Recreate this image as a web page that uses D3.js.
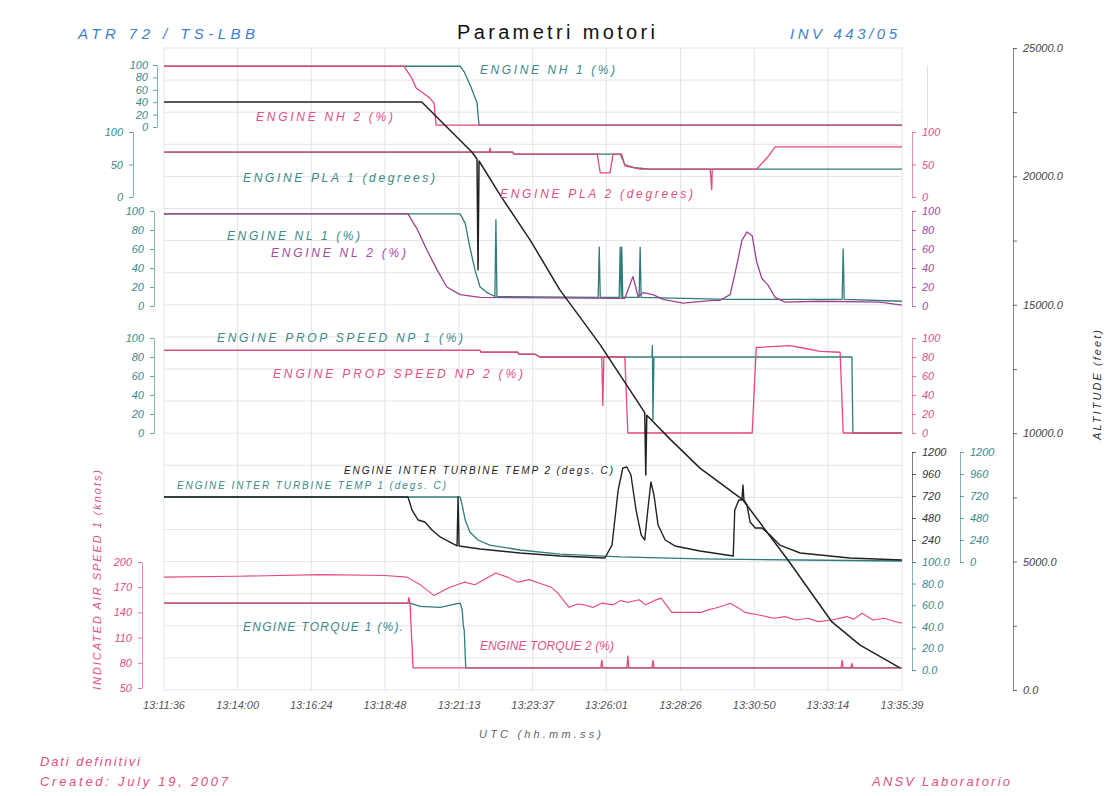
<!DOCTYPE html>
<html>
<head>
<meta charset="utf-8">
<script src="https://cdn.jsdelivr.net/npm/d3@7"></script>
<style>
  body { margin: 0; background: #fff; }
  text { font-family: "Liberation Sans", Arial, sans-serif; font-style: italic; }
</style>
</head>
<body>
<script>
// ---- data (time "hh:mm:ss", value) ----
var timeTicks = ["13:11:36","13:14:00","13:16:24","13:18:48","13:21:13","13:23:37",
                 "13:26:01","13:28:26","13:30:50","13:33:14","13:35:39"];

// ENGINE NH (%)
var nh1 = [["13:11:36",98],["13:21:15",98],["13:21:23",89],["13:21:36",65],["13:21:48",39],["13:21:52",3],["13:35:39",3]];
var nh2 = [["13:11:36",98],["13:19:25",98],["13:19:39",81],["13:19:49",63],["13:20:14",48],["13:20:24",39],["13:20:28",3],["13:35:39",3]];

// ENGINE PLA (degrees)
var pla1 = [["13:11:36",69],["13:22:58",69],["13:23:00",66],["13:26:28",66],["13:26:37",50],["13:26:57",45],["13:27:26",43],["13:35:39",43]];
var pla2 = [["13:11:36",69],["13:22:12",69],["13:22:13",75],["13:22:15",69],["13:22:58",69],["13:23:00",66],["13:25:43",66],
            ["13:25:49",37],["13:26:08",37],["13:26:14",66],["13:26:31",66],["13:26:37",48],["13:27:07",43],["13:29:24",43],
            ["13:29:27",11],["13:29:28",43],["13:30:55",43],["13:31:17",62],["13:31:31",77],["13:35:39",77]];

// ENGINE NL (%)
var nl1 = [["13:11:36",97],["13:21:15",97],["13:21:25",87],["13:21:34",62],["13:21:44",38],["13:21:54",20],["13:22:08",14],
           ["13:22:23",10],["13:22:25",91],["13:22:27",10],["13:25:45",9],["13:25:47",62],["13:25:49",9],["13:26:26",9],
           ["13:26:28",62],["13:26:30",9],["13:26:31",62],["13:26:33",9],["13:27:05",9],["13:27:07",62],["13:27:09",9],
           ["13:30:00",7],["13:33:42",7],["13:33:44",60],["13:33:46",7],["13:35:39",5]];
var nl2 = [["13:11:36",97],["13:19:33",97],["13:19:51",81],["13:20:10",59],["13:20:30",38],["13:20:49",20],["13:21:15",12],
           ["13:21:54",9],["13:26:37",8],["13:26:53",31],["13:27:03",10],["13:27:13",14],["13:27:32",12],["13:27:52",7],
           ["13:28:31",3],["13:29:29",6],["13:29:43",6],["13:30:03",12],["13:30:16",43],["13:30:26",69],["13:30:36",78],
           ["13:30:46",74],["13:30:55",46],["13:31:05",29],["13:31:17",22],["13:31:31",9],["13:31:50",4],["13:32:59",5],
           ["13:34:56",4],["13:35:39",1]];

// ENGINE PROP SPEED NP (%)
var np1 = [["13:11:36",87],["13:21:54",87],["13:21:56",85],["13:23:08",85],["13:23:10",83],["13:23:41",83],["13:23:51",80],
           ["13:27:30",80],["13:27:31",92],["13:27:32",14],["13:27:34",80],["13:34:01",80],["13:34:03",0],["13:35:39",0]];
var np2 = [["13:11:36",87],["13:21:54",87],["13:21:56",85],["13:23:08",85],["13:23:10",83],["13:23:41",83],["13:23:51",80],
           ["13:25:52",80],["13:25:54",29],["13:25:56",80],["13:26:37",80],["13:26:43",0],["13:30:46",0],["13:30:54",90],
           ["13:32:00",92],["13:32:20",90],["13:32:59",86],["13:33:38",85],["13:33:44",0],["13:35:39",0]];

// ENGINE INTER TURBINE TEMP (degs. C)
var itt1 = [["13:11:36",709],["13:21:15",709],["13:21:19",622],["13:21:25",458],["13:21:34",327],["13:21:50",240],
            ["13:22:13",185],["13:23:12",131],["13:24:30",87],["13:26:28",55],["13:29:04",33],["13:32:20",22],["13:35:39",11]];
var itt2 = [["13:11:36",709],["13:19:33",709],["13:19:41",567],["13:19:53",458],["13:20:06",436],["13:20:20",349],
            ["13:20:36",273],["13:20:55",218],["13:21:09",175],["13:21:11",709],["13:21:13",175],["13:21:54",142],
            ["13:23:12",98],["13:24:30",65],["13:25:58",44],["13:26:12",185],["13:26:24",785],["13:26:33",1025],
            ["13:26:41",1036],["13:26:49",949],["13:26:59",567],["13:27:09",295],["13:27:16",240],["13:27:22",567],
            ["13:27:28",873],["13:27:34",731],["13:27:42",404],["13:27:56",240],["13:28:15",175],["13:29:04",120],
            ["13:30:09",65],["13:30:12",567],["13:30:20",676],["13:30:26",676],["13:30:28",840],["13:30:30",676],
            ["13:30:36",622],["13:30:42",436],["13:30:52",371],["13:31:05",371],["13:31:21",295],["13:31:40",185],
            ["13:32:20",98],["13:33:57",44],["13:35:39",22]];

// ENGINE TORQUE (%)
var tq1 = [["13:11:36",62],["13:19:37",62],["13:19:57",59],["13:20:36",58],["13:21:05",61],["13:21:15",62],["13:21:19",56],
           ["13:21:21",42],["13:21:23",37],["13:21:26",2],["13:35:39",2]];
var tq2 = [["13:11:36",62],["13:19:33",62],["13:19:35",67],["13:19:37",62],["13:19:43",2],["13:25:50",2],["13:25:52",9],
           ["13:25:54",2],["13:26:41",2],["13:26:43",13],["13:26:45",2],["13:27:30",2],["13:27:32",9],["13:27:34",2],
           ["13:33:40",2],["13:33:42",9],["13:33:44",2],["13:33:59",2],["13:34:01",6],["13:34:03",2],["13:35:39",2]];

// INDICATED AIR SPEED 1 (knots)
var ias = [["13:11:36",182],["13:14:00",183],["13:16:43",185],["13:18:48",184],["13:19:31",182],["13:19:57",173],
           ["13:20:24",160],["13:20:55",170],["13:21:23",176],["13:21:44",173],["13:22:05",180],["13:22:25",187],
           ["13:22:47",182],["13:23:08",176],["13:23:30",179],["13:23:49",175],["13:24:13",170],["13:24:26",163],
           ["13:24:48",146],["13:25:05",150],["13:25:17",149],["13:25:35",146],["13:25:52",151],["13:26:14",149],
           ["13:26:28",154],["13:26:43",152],["13:27:05",155],["13:27:18",149],["13:27:34",154],["13:27:48",157],
           ["13:28:09",140],["13:28:37",140],["13:29:06",140],["13:29:20",143],["13:29:33",145],["13:29:50",148],
           ["13:30:03",151],["13:30:20",145],["13:30:32",140],["13:30:59",137],["13:31:29",133],["13:31:50",135],
           ["13:32:12",131],["13:32:35",133],["13:32:55",129],["13:33:22",131],["13:33:51",135],["13:34:05",132],
           ["13:34:21",139],["13:34:42",131],["13:35:04",133],["13:35:20",130],["13:35:39",127]];

// ALTITUDE (feet)
var alt = [["13:11:36",22900],["13:20:00",22900],["13:21:38",20950],["13:21:48",20680],["13:21:50",16360],["13:21:52",20600],
           ["13:22:33",19280],["13:23:32",17520],["13:24:30",15580],["13:25:09",14530],["13:25:49",13440],["13:27:16",10800],
           ["13:27:18",8370],["13:27:20",10700],["13:28:07",9740],["13:29:04",8640],["13:30:28",7400],["13:31:56",5060],
           ["13:33:22",2650],["13:34:17",1750],["13:35:35",860]];

// ---- colours ----
var teal = "#2f7d79", tealTxt = "#3b8a87";
var pink = "#e8477c", pinkTxt = "#e2507f";
var purple = "#9c4290", purpleTxt = "#a24a9c";
var ink = "#222";
var blue = "#3d7fcf";

var parseT = d3.timeParse("%H:%M:%S");

var svg = d3.select("body").append("svg")
    .attr("width", 1113)
    .attr("height", 796);

// x scale shared by every panel
var x = d3.scaleTime()
    .domain([parseT(timeTicks[0]), parseT(timeTicks[timeTicks.length - 1])])
    .range([164, 902]);

// one y scale per trace band
var yNH  = d3.scaleLinear().domain([0, 100]).range([127, 65]);
var yPLA = d3.scaleLinear().domain([0, 100]).range([197, 132]);
var yNL  = d3.scaleLinear().domain([0, 100]).range([306, 211]);
var yNP  = d3.scaleLinear().domain([0, 100]).range([433, 338]);
var yITT = d3.scaleLinear().domain([0, 1200]).range([562, 452]);
var yTQ  = d3.scaleLinear().domain([0, 100]).range([670, 562]);
var yIAS = d3.scaleLinear().domain([50, 200]).range([688, 562]);
var yALT = d3.scaleLinear().domain([0, 25000]).range([690, 48]);

// grid
var grid = svg.append("g").attr("stroke", "#d9dee6").attr("stroke-width", 0.8);
grid.selectAll(".hg")
  .data(d3.range(0, 25001, 1250))
  .enter().append("line")
    .attr("x1", 164).attr("x2", 902)
    .attr("y1", function(d){ return yALT(d); })
    .attr("y2", function(d){ return yALT(d); });
grid.selectAll(".vg")
  .data(timeTicks)
  .enter().append("line")
    .attr("x1", function(d){ return x(parseT(d)); })
    .attr("x2", function(d){ return x(parseT(d)); })
    .attr("y1", yALT(25000)).attr("y2", yALT(0));

// axes
function axis(gen, xpos, color, size){
  var g = svg.append("g")
      .attr("transform", "translate(" + xpos + ",0)")
      .call(gen);
  g.attr("font-size", size || 11);
  g.select(".domain").attr("stroke", color).attr("stroke-width", 0.8).attr("opacity", 0.8);
  g.selectAll(".tick line").attr("stroke", color).attr("stroke-width", 0.8);
  g.selectAll(".tick text").attr("fill", color);
  return g;
}
var pct = [0, 20, 40, 60, 80, 100];
var ittTicks = [0, 240, 480, 720, 960, 1200];

axis(d3.axisLeft(yNH).tickValues(pct).tickSize(4).tickSizeOuter(0).tickPadding(5), 157, tealTxt);
axis(d3.axisLeft(yPLA).tickValues([0, 50, 100]).tickSize(4).tickSizeOuter(0).tickPadding(6), 133, tealTxt);
axis(d3.axisLeft(yNL).tickValues(pct).tickSize(4).tickSizeOuter(0).tickPadding(6), 154, tealTxt);
axis(d3.axisLeft(yNP).tickValues(pct).tickSize(4).tickSizeOuter(0).tickPadding(6), 154, tealTxt);
axis(d3.axisLeft(yIAS).tickValues([50, 80, 110, 140, 170, 200]).tickSize(4).tickSizeOuter(0).tickPadding(6), 142, pinkTxt);

axis(d3.axisRight(yNH).tickValues([]).tickSizeOuter(0), 927, "#c9cfd6");
axis(d3.axisRight(yPLA).tickValues([0, 50, 100]).tickSize(4).tickSizeOuter(0).tickPadding(6), 912, pinkTxt);
axis(d3.axisRight(yNL).tickValues(pct).tickSize(4).tickSizeOuter(0).tickPadding(6), 912, purpleTxt);
axis(d3.axisRight(yNP).tickValues(pct).tickSize(4).tickSizeOuter(0).tickPadding(6), 912, pinkTxt);
axis(d3.axisRight(yITT).tickValues(ittTicks).tickSize(4).tickSizeOuter(0).tickPadding(6)
       .tickFormat(function(d){ return d === 0 ? "" : d3.format("d")(d); }), 912, "#333");
axis(d3.axisRight(yITT).tickValues(ittTicks).tickSize(4).tickSizeOuter(0).tickPadding(6)
       .tickFormat(d3.format("d")), 960, tealTxt);
axis(d3.axisRight(yTQ).tickValues(pct).tickSize(4).tickSizeOuter(0).tickPadding(6).tickFormat(d3.format(".1f")), 912, tealTxt);
axis(d3.axisRight(yALT).tickValues(d3.range(0, 25001, 2500)).tickSize(4).tickSizeOuter(0).tickPadding(6)
       .tickFormat(function(d){ return d % 5000 === 0 ? d3.format(".1f")(d) : ""; }), 1013, "#444");

// time axis labels
svg.append("g").selectAll("text")
  .data(timeTicks)
  .enter().append("text")
    .attr("x", function(d){ return x(parseT(d)); })
    .attr("y", 709)
    .attr("text-anchor", "middle")
    .attr("font-size", 11)
    .attr("fill", "#555")
    .text(function(d){ return d; });

// traces
function trace(data, y, color, w){
  var line = d3.line()
      .x(function(d){ return x(parseT(d[0])); })
      .y(function(d){ return y(d[1]); });
  svg.append("path")
      .datum(data)
      .attr("fill", "none")
      .attr("stroke", color)
      .attr("stroke-width", w || 1.3)
      .attr("stroke-linejoin", "round")
      .attr("d", line);
}
trace(nh1, yNH, teal);
trace(pla1, yPLA, teal);
trace(nl1, yNL, teal);
trace(np1, yNP, teal);
trace(itt1, yITT, teal);
trace(tq1, yTQ, teal);
trace(nh2, yNH, pink);
trace(pla2, yPLA, pink);
trace(np2, yNP, pink);
trace(tq2, yTQ, pink);
trace(ias, yIAS, pink, 1.1);
trace(nl2, yNL, purple);
trace(itt2, yITT, ink, 1.4);
trace(alt, yALT, ink, 1.5);

// trace names
var names = [
  ["ENGINE NH 1 (%)", 480, 74, tealTxt, 135, 12],
  ["ENGINE NH 2 (%)", 256, 121, pinkTxt, 137, 12],
  ["ENGINE PLA 1 (degrees)", 243, 182, tealTxt, 192, 12],
  ["ENGINE PLA 2 (degrees)", 500, 198, pinkTxt, 193, 12],
  ["ENGINE NL 1 (%)", 227, 240, tealTxt, 133, 12],
  ["ENGINE NL 2 (%)", 271, 257, purpleTxt, 135, 12],
  ["ENGINE PROP SPEED NP 1 (%)", 217, 342, tealTxt, 246, 12],
  ["ENGINE PROP SPEED NP 2 (%)", 273, 378, pinkTxt, 250, 12],
  ["ENGINE INTER TURBINE TEMP 2 (degs. C)", 344, 474, ink, 269, 10],
  ["ENGINE INTER TURBINE TEMP 1 (degs. C)", 177, 489, tealTxt, 269, 10],
  ["ENGINE TORQUE 1 (%).", 243, 631, tealTxt, 160, 12],
  ["ENGINE TORQUE 2 (%)", 480, 650, pinkTxt, 134, 12]
];
svg.append("g").selectAll("text")
  .data(names)
  .enter().append("text")
    .attr("x", function(d){ return d[1]; })
    .attr("y", function(d){ return d[2]; })
    .attr("fill", function(d){ return d[3]; })
    .attr("textLength", function(d){ return d[4]; })
    .attr("lengthAdjust", "spacing")
    .attr("font-size", function(d){ return d[5]; })
    .text(function(d){ return d[0]; });

// headings and notes
function note(t, xp, yp, color, size, len, anchor, normal){
  var el = svg.append("text")
      .attr("x", xp).attr("y", yp)
      .attr("fill", color)
      .attr("font-size", size)
      .attr("text-anchor", anchor || "start")
      .text(t);
  if (len) el.attr("textLength", len).attr("lengthAdjust", "spacing");
  if (normal) el.style("font-style", "normal");
  return el;
}
note("ATR 72 / TS-LBB", 78, 39, blue, 15, 177);
note("Parametri motori", 457, 39, "#111", 20, 198, "start", true);
note("INV 443/05", 790, 39, blue, 15, 107);
note("UTC (hh.mm.ss)", 540, 738, "#5a6470", 11, 122, "middle");
note("Dati definitivi", 40, 766, pinkTxt, 13, 100);
note("Created: July 19, 2007", 40, 786, pinkTxt, 13, 188);
note("ANSV Laboratorio", 1010, 786, pinkTxt, 13, 138, "end");

note("ALTITUDE (feet)", 0, 0, "#333", 11, 110, "middle")
  .attr("transform", "translate(1101,385) rotate(-90)");
note("INDICATED AIR SPEED 1 (knots)", 0, 0, pinkTxt, 11, 220, "middle")
  .attr("transform", "translate(101,580) rotate(-90)");
</script>
</body>
</html>
